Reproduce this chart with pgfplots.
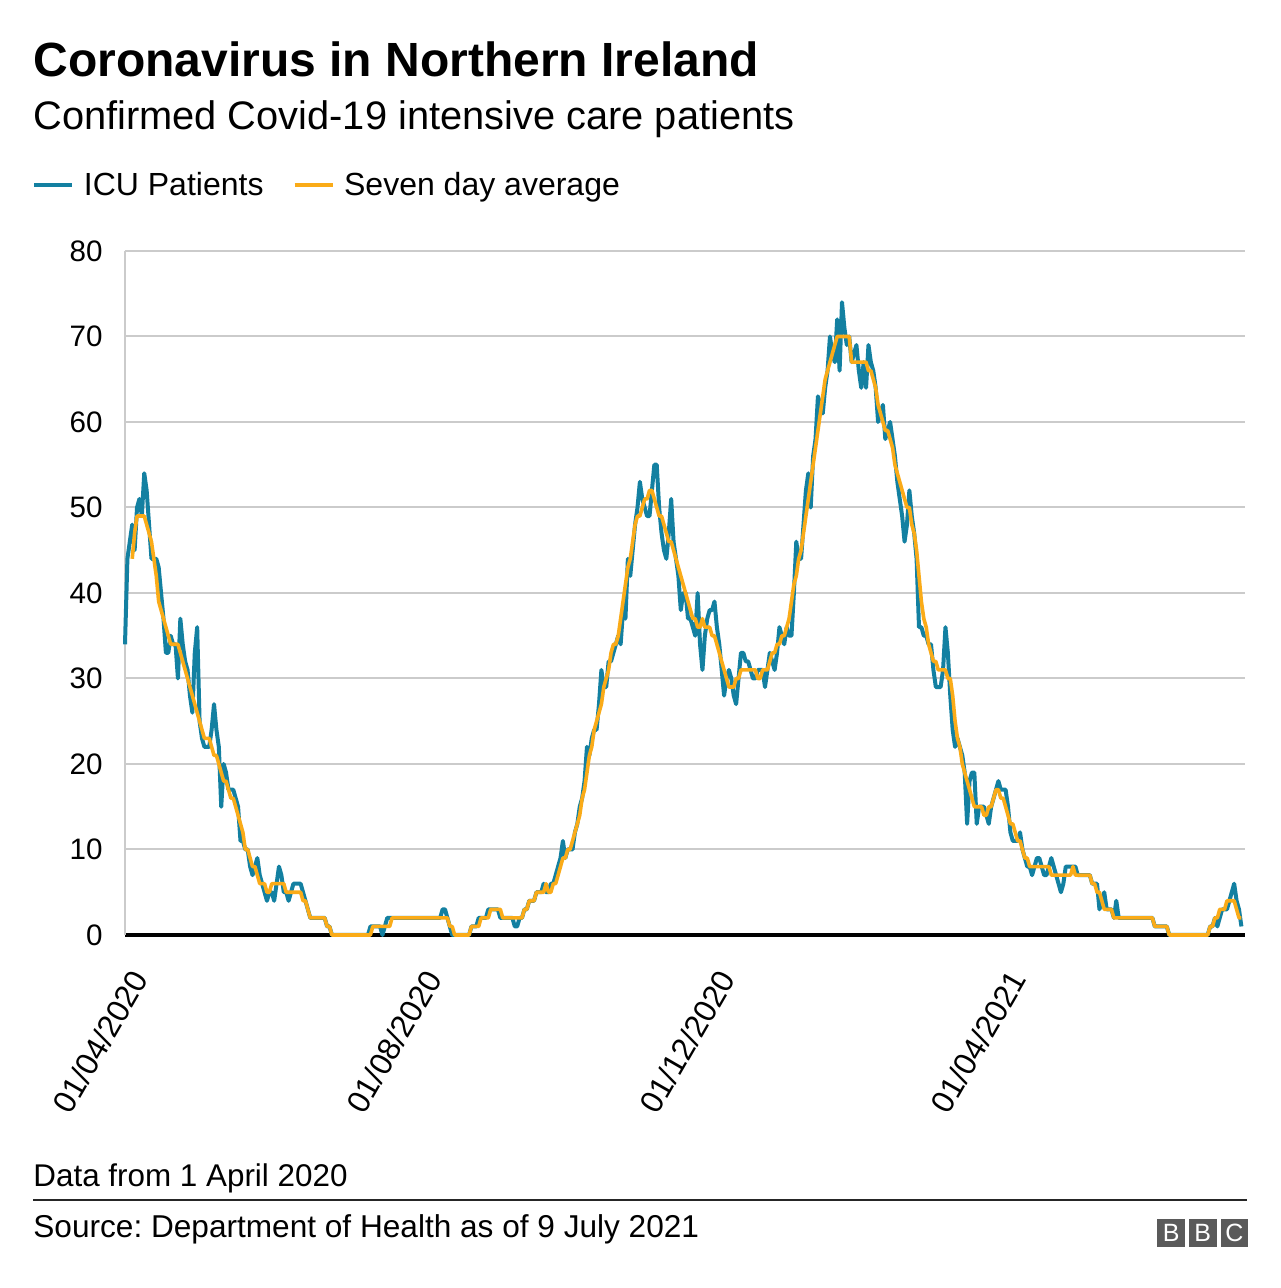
\documentclass[border=0pt]{standalone}
\usepackage{pgfplots}
\pgfplotsset{compat=1.18}
\usepackage{pgfplotstable}
\usepackage{fontspec}
\setmainfont{Liberation Sans}
\frenchspacing
\definecolor{icublue}{HTML}{1380A1}
\definecolor{avgyellow}{HTML}{FAAB18}
\definecolor{gridgray}{HTML}{CBCBCB}
\definecolor{bbcgray}{HTML}{5A5A5A}

% ICU patients, one value per day from 1 April 2020 (day 0)
\pgfplotstableread[header=false,row sep=\\]{
34\\44\\46\\48\\45\\50\\51\\49\\54\\52\\
48\\44\\44\\44\\43\\40\\37\\33\\33\\35\\
34\\34\\30\\37\\34\\32\\31\\28\\26\\33\\
36\\25\\23\\22\\22\\22\\24\\27\\24\\22\\
15\\20\\19\\17\\17\\17\\16\\15\\11\\11\\
10\\10\\8\\7\\8\\9\\7\\6\\5\\4\\
5\\5\\4\\6\\8\\7\\5\\5\\4\\5\\
6\\6\\6\\6\\5\\4\\3\\2\\2\\2\\
2\\2\\2\\2\\1\\1\\0\\0\\0\\0\\
0\\0\\0\\0\\0\\0\\0\\0\\0\\0\\
0\\0\\1\\1\\1\\1\\1\\0\\1\\2\\
2\\2\\2\\2\\2\\2\\2\\2\\2\\2\\
2\\2\\2\\2\\2\\2\\2\\2\\2\\2\\
2\\2\\3\\3\\2\\1\\0\\0\\0\\0\\
0\\0\\0\\0\\1\\1\\1\\2\\2\\2\\
2\\3\\3\\3\\3\\3\\2\\2\\2\\2\\
2\\2\\1\\1\\2\\2\\3\\3\\4\\4\\
4\\5\\5\\5\\6\\5\\5\\6\\6\\7\\
8\\9\\11\\9\\10\\10\\10\\12\\13\\15\\
16\\18\\22\\21\\23\\24\\24\\27\\31\\29\\
29\\32\\32\\33\\34\\35\\34\\38\\37\\44\\
42\\45\\48\\50\\53\\51\\50\\49\\49\\52\\
55\\55\\50\\47\\45\\44\\47\\51\\46\\44\\
42\\38\\40\\40\\37\\37\\36\\35\\40\\34\\
31\\35\\37\\38\\38\\39\\36\\34\\31\\28\\
30\\31\\30\\28\\27\\30\\33\\33\\32\\32\\
31\\30\\30\\31\\31\\31\\29\\31\\33\\32\\
31\\33\\36\\35\\34\\36\\35\\35\\40\\46\\
44\\44\\48\\52\\54\\50\\56\\58\\63\\62\\
61\\64\\66\\70\\68\\67\\72\\66\\74\\71\\
69\\70\\67\\68\\69\\66\\64\\67\\64\\69\\
67\\66\\64\\60\\61\\62\\58\\59\\60\\58\\
56\\53\\51\\49\\46\\48\\52\\49\\47\\44\\
36\\36\\35\\35\\34\\34\\31\\29\\29\\29\\
31\\36\\33\\28\\24\\22\\23\\22\\21\\19\\
13\\18\\19\\19\\13\\15\\15\\15\\14\\13\\
15\\16\\17\\18\\17\\17\\17\\15\\12\\11\\
11\\11\\12\\10\\9\\8\\8\\7\\8\\9\\
9\\8\\7\\7\\8\\9\\8\\7\\6\\5\\
6\\8\\8\\8\\8\\8\\7\\7\\7\\7\\
7\\7\\6\\6\\6\\3\\4\\5\\3\\3\\
3\\2\\4\\2\\2\\2\\2\\2\\2\\2\\
2\\2\\2\\2\\2\\2\\2\\2\\1\\1\\
1\\1\\1\\1\\0\\0\\0\\0\\0\\0\\
0\\0\\0\\0\\0\\0\\0\\0\\0\\0\\
0\\1\\1\\2\\1\\2\\3\\3\\3\\4\\
5\\6\\4\\3\\1\\
}\icu

% Seven day average, one value per day from day 3
\pgfplotstableread[header=false,row sep=\\]{
44\\47\\49\\49\\49\\49\\48\\
47\\46\\44\\42\\39\\38\\37\\36\\35\\34\\
34\\34\\34\\33\\32\\31\\30\\29\\28\\27\\
26\\25\\24\\23\\23\\23\\22\\21\\21\\20\\
19\\18\\18\\17\\16\\16\\15\\14\\13\\12\\
10\\10\\9\\8\\8\\7\\6\\6\\6\\5\\
5\\6\\6\\6\\6\\6\\6\\5\\5\\5\\
5\\5\\5\\5\\4\\4\\3\\2\\2\\2\\
2\\2\\2\\2\\1\\1\\0\\0\\0\\0\\
0\\0\\0\\0\\0\\0\\0\\0\\0\\0\\
0\\0\\0\\1\\1\\1\\1\\1\\1\\1\\
1\\2\\2\\2\\2\\2\\2\\2\\2\\2\\
2\\2\\2\\2\\2\\2\\2\\2\\2\\2\\
2\\2\\2\\2\\2\\1\\1\\0\\0\\0\\
0\\0\\0\\0\\1\\1\\1\\1\\2\\2\\
2\\2\\3\\3\\3\\3\\3\\2\\2\\2\\
2\\2\\2\\2\\2\\2\\3\\3\\4\\4\\
4\\5\\5\\5\\5\\6\\5\\5\\6\\6\\
7\\8\\9\\9\\10\\10\\11\\12\\13\\14\\
16\\17\\19\\21\\22\\24\\25\\26\\27\\29\\
30\\31\\33\\34\\34\\35\\37\\39\\41\\43\\
44\\46\\48\\49\\49\\50\\51\\51\\52\\52\\
51\\50\\49\\49\\48\\47\\46\\46\\45\\44\\
43\\42\\41\\40\\39\\38\\37\\37\\36\\36\\
37\\36\\36\\36\\35\\35\\34\\33\\32\\31\\
30\\29\\29\\29\\30\\30\\31\\31\\31\\31\\
31\\31\\31\\30\\30\\31\\31\\31\\32\\33\\
33\\34\\34\\35\\35\\36\\37\\39\\41\\42\\
44\\45\\47\\49\\51\\53\\55\\57\\59\\61\\
63\\65\\66\\67\\68\\69\\70\\70\\70\\70\\
70\\70\\67\\67\\67\\67\\67\\67\\67\\66\\
66\\65\\64\\62\\61\\60\\59\\59\\58\\57\\
55\\54\\53\\52\\51\\50\\50\\48\\47\\45\\
42\\39\\37\\36\\34\\33\\32\\32\\31\\31\\
31\\31\\30\\30\\28\\25\\23\\22\\20\\19\\
18\\17\\16\\15\\15\\15\\15\\14\\14\\15\\
15\\16\\17\\17\\16\\16\\15\\14\\13\\13\\
12\\11\\11\\10\\9\\9\\8\\8\\8\\8\\
8\\8\\8\\8\\8\\7\\7\\7\\7\\7\\
7\\7\\7\\7\\8\\7\\7\\7\\7\\7\\
7\\7\\6\\6\\5\\5\\4\\3\\3\\3\\
3\\2\\2\\2\\2\\2\\2\\2\\2\\2\\
2\\2\\2\\2\\2\\2\\2\\2\\1\\1\\
1\\1\\1\\1\\0\\0\\0\\0\\0\\0\\
0\\0\\0\\0\\0\\0\\0\\0\\0\\0\\
0\\1\\1\\2\\2\\3\\3\\3\\4\\4\\
4\\4\\3\\2\\2\\
}\avg

\begin{document}
\begin{tikzpicture}
\path[use as bounding box] (0pt,0pt) rectangle (640pt,644pt);

\node[anchor=base west, inner sep=0pt, font=\bfseries\fontsize{24}{28}\selectfont] at (16.5pt,605.5pt) {Coronavirus in Northern Ireland};
\node[anchor=base west, inner sep=0pt, font=\fontsize{19.9}{23}\selectfont] at (16.5pt,579pt) {Confirmed Covid-19 intensive care patients};

\begin{axis}[
  at={(62.5pt,176.5pt)}, anchor=south west,
  scale only axis, width=560pt, height=342pt,
  xmin=0, xmax=465.5, ymin=0, ymax=80,
  axis x line=bottom, axis y line=left,
  x axis line style={black, line width=1.6pt, -},
  y axis line style={gridgray, line width=1pt, -},
  ytick={0,10,...,80},
  xtick={0,122,244,365},
  xticklabels={01/04/2020,01/08/2020,01/12/2020,01/04/2021},
  major tick length=0pt,
  ymajorgrids, grid style={gridgray, line width=1pt},
  yticklabel style={font=\fontsize{14.8}{17}\selectfont},
  /pgf/number format/assume math mode=true,
  yticklabel style={anchor=east, inner sep=0pt, xshift=-11pt},
  xticklabel style={font=\fontsize{15.8}{18}\selectfont, xshift=7.5pt, yshift=-19pt, rotate=60, anchor=east, inner sep=0pt},
  clip=false,
  legend columns=2,
  legend cell align=left,
  legend image code/.code={\draw[#1, line width=2pt] (0pt,0pt) -- (19pt,0pt);},
  legend style={at={(-0.0831,1.0965)}, anchor=west, draw=none, fill=none,
    inner sep=0pt, font=\fontsize{16}{19}\selectfont,
    nodes={inner sep=0pt},
    /tikz/every odd column/.append style={column sep=4.8pt},
    /tikz/every even column/.append style={column sep=14.5pt}},
]
\addplot[icublue, line width=2pt, line join=round, no marks] table[x expr=\coordindex, y index=0] {\icu};
\addlegendentry{ICU Patients}
\addplot[avgyellow, line width=1.8pt, line join=round, no marks] table[x expr=\coordindex+3, y index=0] {\avg};
\addlegendentry{Seven day average}
\end{axis}

\node[anchor=base west, inner sep=0pt, font=\fontsize{15.7}{18}\selectfont] at (16.5pt,50.5pt) {Data from 1 April 2020};
\draw[black!85, line width=1pt] (16.5pt,43.75pt) -- (623.5pt,43.75pt);
\node[anchor=base west, inner sep=0pt, font=\fontsize{15.8}{18}\selectfont] at (16.5pt,25pt) {Source: Department of Health as of 9 July 2021};

\fill[bbcgray] (578.7pt,20.6pt) rectangle (592.5pt,34.4pt);
\fill[bbcgray] (594.5pt,20.6pt) rectangle (608.3pt,34.4pt);
\fill[bbcgray] (610.3pt,20.6pt) rectangle (624.1pt,34.4pt);
\node[white, inner sep=0pt, font=\fontsize{12.5}{13}\selectfont] at (585.6pt,27.5pt) {B};
\node[white, inner sep=0pt, font=\fontsize{12.5}{13}\selectfont] at (601.4pt,27.5pt) {B};
\node[white, inner sep=0pt, font=\fontsize{12.5}{13}\selectfont] at (617.2pt,27.5pt) {C};
\end{tikzpicture}
\end{document}
